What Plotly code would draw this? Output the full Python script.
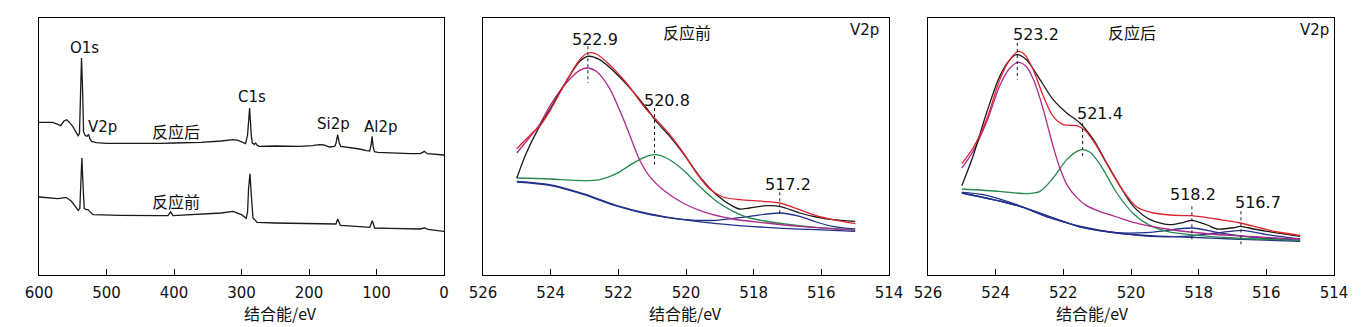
import plotly.graph_objects as go

# ---------------- Panel 1: survey spectra ----------------
after_ev = [600, 590, 580, 572, 568, 563, 559, 555, 550, 545, 542, 540, 538.5, 537, 535.5, 534, 532, 529,
            526.5, 524.5, 522, 515, 500, 450, 420, 400, 360, 330, 312, 305, 298, 294, 291, 288, 285.5, 284,
            281, 279, 277, 274, 250, 215, 195, 185, 178, 170, 162, 160, 157.5, 155, 153, 140, 125, 115,
            110, 108, 106.5, 105, 103, 98, 80, 50, 35, 29, 25, 15, 0]
after_y = [458, 459, 458, 452, 448, 462, 466, 458, 446, 428, 418, 425, 560, 651, 560, 430, 420, 416,
           422, 408, 401, 397, 395, 394, 395, 396, 398, 402, 406, 404, 398, 394, 420, 501, 420, 396,
           392, 396, 390, 386, 387, 386, 388, 391, 390, 384, 386, 395, 421, 395, 386, 383, 378, 373,
           372, 390, 416, 385, 370, 368, 366, 364, 364, 371, 364, 362, 360]

before_ev = [600, 585, 572, 560, 552, 546, 542, 539.5, 537.8, 536.5, 535, 533, 530, 527.4, 525, 520, 480,
             460.7, 420, 409, 405, 401.5, 380, 362, 330, 312.6, 300, 293, 291, 289.5, 287.4, 285.5, 283,
             280.5, 277, 250, 213.8, 180, 162, 160, 157.5, 155, 153.6, 130, 112, 110, 106.2, 104, 102.7,
             80, 50, 36, 28.6, 24, 0]
before_y = [234, 232, 229, 233, 221, 205, 194, 200, 280, 351, 280, 200, 196, 196, 191, 181, 179,
            178, 178, 178, 189, 178, 180, 182, 186, 191, 181, 170, 190, 260, 304, 240, 171,
            166, 158, 156, 154, 153, 151, 153, 168, 152, 149, 146, 142, 143, 163, 150, 141,
            140, 139, 138, 141, 137, 131]

# ---------------- Panel 2: V2p before reaction ----------------
p2_red_ev = [525.00, 524.52, 524.33, 524.03, 523.54, 523.14, 522.90, 522.65, 522.26, 521.76, 521.17, 520.88,
             520.48, 520.09, 519.69, 519.30, 518.91, 518.41, 517.72, 517.23, 516.64, 516.15, 515.66, 515.00]
p2_red_y = [379, 428, 446, 491, 581, 646, 666, 663, 631, 576, 496, 466,
            421, 368, 306, 258, 234, 226, 221, 216, 196, 178, 166, 154]

p2_black_ev = [525.00, 524.72, 524.33, 524.03, 523.54, 523.14, 522.90, 522.55, 522.06, 521.57, 521.17, 520.88,
               520.48, 520.09, 519.60, 519.10, 518.61, 518.41, 518.12, 517.63, 517.23, 516.64, 516.15, 515.66, 515.00]
p2_black_y = [291, 366, 446, 496, 581, 641, 656, 646, 604, 551, 501, 461,
              416, 366, 296, 241, 206, 198, 201, 208, 206, 186, 174, 166, 161]

p2_mag_ev = [525.00, 524.52, 524.33, 524.03, 523.54, 523.14, 522.90, 522.65, 522.26, 521.86, 521.57, 521.37,
             521.07, 520.68, 520.09, 519.50, 518.61, 517.63, 516.64, 515.00]
p2_mag_y = [366, 426, 451, 506, 576, 614, 621, 611, 560, 470, 395, 345,
            295, 256, 216, 190, 168, 156, 146, 134]

p2_green_ev = [525.00, 524.03, 523.04, 522.55, 522.06, 521.47, 521.07, 520.88, 520.58, 520.09, 519.60, 519.10,
               518.61, 518.12, 517.13, 516.15, 515.00]
p2_green_y = [291, 288, 283, 286, 304, 341, 359, 361, 351, 316, 266, 221,
              191, 171, 154, 143, 136]

p2_bg_ev = [525.00, 524.03, 523.04, 522.06, 521.07, 520.09, 519.10, 518.12, 517.13, 516.15, 515.00]
p2_bg_y = [281, 271, 244, 209, 183, 166, 154, 146, 140, 136, 131]

p2_blue_ev = [525.00, 524.03, 523.04, 522.06, 521.07, 520.09, 519.10, 518.12, 517.23, 516.64, 516.15, 515.66, 515.00]
p2_blue_y = [279, 269, 242, 207, 181, 167, 164, 176, 186, 176, 159, 146, 138]

p2_peak_pos = [522.90, 520.93, 517.23]
p2_peak_top = [686, 501, 248]
p2_peak_bot = [576, 331, 176]
p2_peak_labels = ["522.9", "520.8", "517.2"]
p2_label_ev = [522.68, 520.56, 517.00]
p2_label_y = [708, 524, 271]

# ---------------- Panel 3: V2p after reaction ----------------
p3_black_ev = [525.00, 524.67, 524.27, 523.88, 523.58, 523.38, 523.09, 522.69, 522.30, 521.90, 521.51, 521.11,
               520.72, 520.32, 519.93, 519.43, 518.88, 518.44, 518.20, 517.75, 517.46, 516.96, 516.77, 516.37,
               515.98, 515.00]
p3_black_y = [268, 356, 486, 596, 646, 661, 646, 586, 526, 486, 456, 406,
              336, 266, 206, 166, 151, 158, 164, 150, 138, 142, 146, 138,
              131, 116]

p3_red_ev = [525.00, 524.67, 524.27, 523.88, 523.58, 523.33, 523.14, 522.89, 522.59, 522.30, 522.00, 521.60,
             521.36, 521.01, 520.62, 520.22, 519.83, 519.33, 518.44, 518.20, 517.36, 516.77, 516.17, 515.68, 515.00]
p3_red_y = [334, 381, 466, 586, 646, 671, 661, 616, 536, 476, 451, 448,
            434, 386, 316, 251, 204, 186, 178, 178, 166, 156, 141, 129, 119]

p3_mag_ev = [525.00, 524.67, 524.27, 523.88, 523.58, 523.33, 523.09, 522.89, 522.69, 522.49, 522.30, 522.10,
             521.90, 521.60, 521.31, 520.91, 520.42, 519.93, 518.94, 517.95, 516.96, 515.00]
p3_mag_y = [321, 371, 458, 568, 621, 638, 625, 588, 530, 458, 385, 320,
            272, 232, 208, 190, 174, 158, 138, 126, 118, 108]

p3_green_ev = [525.00, 523.88, 523.09, 522.69, 522.30, 521.90, 521.60, 521.43, 521.21, 520.91, 520.42, 519.93,
               519.43, 518.94, 517.95, 516.96, 515.00]
p3_green_y = [258, 251, 244, 251, 291, 346, 371, 376, 368, 331, 246, 184,
              148, 131, 118, 111, 104]

p3_bg_ev = [525.00, 524.37, 523.38, 522.39, 521.41, 520.42, 519.43, 518.44, 516.96, 515.00]
p3_bg_y = [248, 241, 211, 171, 144, 126, 118, 114, 108, 101]

p3_blue1_ev = [525.00, 523.38, 521.41, 520.42, 519.43, 518.20, 517.46, 516.47, 515.00]
p3_blue1_y = [246, 209, 142, 127, 128, 141, 128, 114, 104]

p3_blue2_ev = [525.00, 523.38, 521.41, 519.43, 518.44, 517.46, 516.72, 515.98, 515.00]
p3_blue2_y = [246, 209, 142, 116, 116, 126, 134, 121, 108]

p3_peak_pos = [523.36, 521.43, 518.20, 516.75]
p3_peak_top = [696, 456, 206, 191]
p3_peak_bot = [586, 351, 106, 86]
p3_peak_labels = ["523.2", "521.4", "518.2", "516.7"]
p3_label_ev = [522.81, 520.93, 518.17, 516.25]
p3_label_y = [721, 486, 241, 218]

# ---------------- Panel 1 labels ----------------
p1_labels = ["O1s", "V2p", "反应后", "C1s", "Si2p", "Al2p", "反应前"]
p1_label_ev = [532.3, 505.2, 396.5, 284.4, 164.4, 93.8, 396.5]
p1_label_y = [681, 443, 431, 533, 453, 443, 221]

panel_titles = ["反应前", "反应后"]
xtitle = "结合能/eV"

FONT = "DejaVu Sans, Noto Sans CJK SC, sans-serif"
CJK = "Noto Sans CJK SC, DejaVu Sans, sans-serif"
RED = "#e3232c"
BLACK = "#1a1a1a"
MAG = "#ad2a8c"
GREEN = "#258a4c"
BLUE = "#22318c"

fig = go.Figure()

def add_line(x, y, color, axis, width=1.3, shape="spline"):
    fig.add_trace(go.Scatter(x=x, y=y, mode="lines", xaxis=axis[0], yaxis=axis[1],
                             line=dict(color=color, width=width, shape=shape, smoothing=0.8),
                             showlegend=False, hoverinfo="skip"))

# panel 1
add_line(after_ev, after_y, BLACK, ("x", "y"), width=1.3, shape="linear")
add_line(before_ev, before_y, BLACK, ("x", "y"), width=1.3, shape="linear")

# panel 2
ax2 = ("x2", "y2")
add_line(p2_bg_ev, p2_bg_y, BLUE, ax2)
add_line(p2_blue_ev, p2_blue_y, BLUE, ax2)
add_line(p2_green_ev, p2_green_y, GREEN, ax2)
add_line(p2_mag_ev, p2_mag_y, MAG, ax2)
add_line(p2_black_ev, p2_black_y, BLACK, ax2)
add_line(p2_red_ev, p2_red_y, RED, ax2)
for px, t, b in zip(p2_peak_pos, p2_peak_top, p2_peak_bot):
    fig.add_trace(go.Scatter(x=[px, px], y=[t, b], mode="lines", xaxis="x2", yaxis="y2",
                             line=dict(color=BLACK, width=1, dash="3px,3px"), showlegend=False, hoverinfo="skip"))

# panel 3
ax3 = ("x3", "y3")
add_line(p3_bg_ev, p3_bg_y, BLUE, ax3)
add_line(p3_blue1_ev, p3_blue1_y, BLUE, ax3)
add_line(p3_blue2_ev, p3_blue2_y, BLUE, ax3)
add_line(p3_green_ev, p3_green_y, GREEN, ax3)
add_line(p3_mag_ev, p3_mag_y, MAG, ax3)
add_line(p3_black_ev, p3_black_y, BLACK, ax3)
add_line(p3_red_ev, p3_red_y, RED, ax3)
for px, t, b in zip(p3_peak_pos, p3_peak_top, p3_peak_bot):
    fig.add_trace(go.Scatter(x=[px, px], y=[t, b], mode="lines", xaxis="x3", yaxis="y3",
                             line=dict(color=BLACK, width=1, dash="3px,3px"), showlegend=False, hoverinfo="skip"))

def is_cjk(s):
    return any(ord(c) > 0x2E80 for c in s)

annotations = []
for txt, xv, yv in zip(p1_labels, p1_label_ev, p1_label_y):
    annotations.append(dict(x=xv, y=yv, xref="x", yref="y", text=txt, showarrow=False,
                            font=dict(family=CJK if is_cjk(txt) else FONT, size=16 if is_cjk(txt) else 15,
                                      color="#111")))
for txt, xv, yv in zip(p2_peak_labels, p2_label_ev, p2_label_y):
    annotations.append(dict(x=xv, y=yv, xref="x2", yref="y2", text=txt, showarrow=False,
                            font=dict(family=FONT, size=16, color="#111")))
for txt, xv, yv in zip(p3_peak_labels, p3_label_ev, p3_label_y):
    annotations.append(dict(x=xv, y=yv, xref="x3", yref="y3", text=txt, showarrow=False,
                            font=dict(family=FONT, size=16, color="#111")))
annotations.append(dict(x=519.97, y=729, xref="x2", yref="y2", text=panel_titles[0], showarrow=False,
                        font=dict(family=CJK, size=16, color="#111")))
annotations.append(dict(x=519.98, y=729, xref="x3", yref="y3", text=panel_titles[1], showarrow=False,
                        font=dict(family=CJK, size=16, color="#111")))
annotations.append(dict(x=514.23, y=734, xref="x2", yref="y2", text="V2p", showarrow=False, xanchor="right",
                        font=dict(family=FONT, size=15, color="#111")))
annotations.append(dict(x=514.10, y=734, xref="x3", yref="y3", text="V2p", showarrow=False, xanchor="right",
                        font=dict(family=FONT, size=15, color="#111")))

W, H = 1361, 327
doms = [(39, 444), (483, 889), (928, 1334)]
for d in doms:
    annotations.append(dict(x=(d[0] + d[1]) / 2 / W, y=1 - 313 / H, xref="paper", yref="paper",
                            text=xtitle, showarrow=False, yanchor="middle",
                            font=dict(family=CJK, size=16, color="#111")))

ydom = [1 - 275 / H, 1 - 18 / H]

def xaxis(dom, rng, dtick):
    return dict(domain=[dom[0] / W, dom[1] / W], range=rng, dtick=dtick, ticks="inside", ticklen=6,
                tickcolor="black", showline=True, mirror=True, linecolor="black", linewidth=1,
                showgrid=False, zeroline=False, tickfont=dict(family=FONT, size=15, color="#111"),
                ticklabelstandoff=4, automargin=False)

def yaxis(anchor):
    return dict(domain=ydom, range=[0, 771], showticklabels=False, ticks="", showline=True, mirror=True,
                linecolor="black", linewidth=1, showgrid=False, zeroline=False, anchor=anchor,
                automargin=False)

fig.update_layout(
    width=W, height=H, margin=dict(l=0, r=0, t=0, b=0, autoexpand=False),
    paper_bgcolor="white", plot_bgcolor="white",
    xaxis=dict(**xaxis(doms[0], [600, 0], 100), anchor="y"),
    xaxis2=dict(**xaxis(doms[1], [526, 514], 2), anchor="y2"),
    xaxis3=dict(**xaxis(doms[2], [526, 514], 2), anchor="y3"),
    yaxis=yaxis("x"), yaxis2=yaxis("x2"), yaxis3=yaxis("x3"),
    annotations=annotations, showlegend=False,
)

fig.write_html("out.html")
